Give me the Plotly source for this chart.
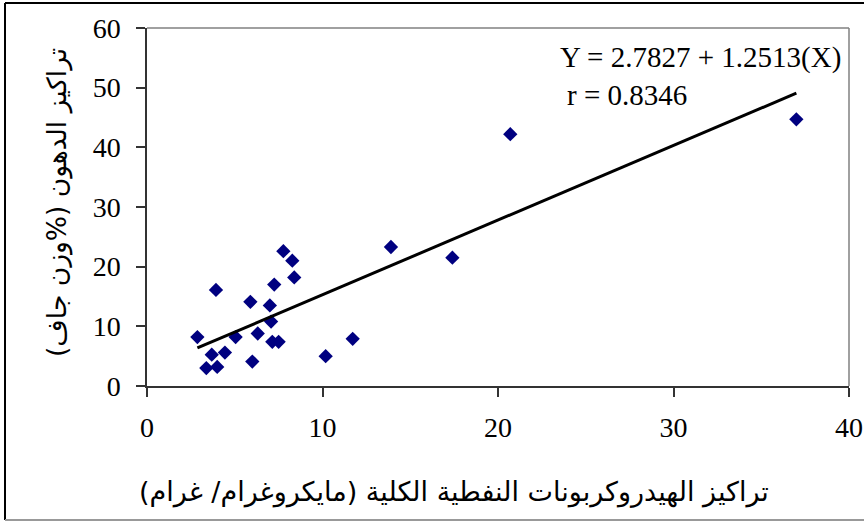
import plotly.graph_objects as go

# Data
tph = [2.87, 3.93, 3.69, 3.38, 4.0, 4.44, 5.05, 5.89, 6.0, 6.31, 7.0, 7.07,
       7.14, 7.5, 7.25, 7.77, 8.28, 8.39, 10.18, 11.72, 13.9, 17.4, 20.7, 37.0]
lipids = [8.2, 16.1, 5.25, 3.0, 3.2, 5.6, 8.2, 14.1, 4.1, 8.8, 13.5, 10.8,
          7.4, 7.4, 17.0, 22.6, 21.0, 18.2, 5.0, 7.9, 23.3, 21.5, 42.2, 44.7]
intercept = 2.7827
slope = 1.2513
r_value = 0.8346
x_ticks = [0, 10, 20, 30, 40]
y_ticks = [0, 10, 20, 30, 40, 50, 60]

x_title = "تراكيز الهيدروكربونات النفطية الكلية (مايكروغرام/ غرام)"
y_title = "تراكيز الدهون (%وزن جاف)"

W, H = 864, 522
L, R, T, B = 147, 15, 28, 136
pw, ph = W - L - R, H - T - B


def px(xp):
    return (xp - L) / pw


def py(yp):
    return (H - B - yp) / ph


fit_x = [min(tph), max(tph)]
fit_y = [intercept + slope * v for v in fit_x]

serif = "Liberation Serif, Times New Roman, serif"
arabic = "DejaVu Sans, Noto Sans, sans-serif"

fig = go.Figure()
fig.add_trace(go.Scatter(
    x=tph, y=lipids, mode="markers",
    marker=dict(symbol="diamond", size=11, color="#000080"),
    showlegend=False, cliponaxis=False,
))
fig.add_trace(go.Scatter(
    x=fit_x, y=fit_y, mode="lines",
    line=dict(color="black", width=3),
    showlegend=False,
))

fig.update_layout(
    width=W, height=H,
    margin=dict(l=L, r=R, t=T, b=B, autoexpand=False),
    paper_bgcolor="white", plot_bgcolor="white",
    font=dict(family=serif, size=28, color="black"),
    xaxis=dict(range=[0, 40], tickvals=x_ticks, showgrid=False, zeroline=False,
               showline=True, linecolor="#333333", linewidth=1.5,
               ticks="outside", ticklen=9, tickcolor="#333333", tickwidth=1.5,
               ticklabelstandoff=7, automargin=False,
               tickfont=dict(family=serif, size=28), mirror=False),
    yaxis=dict(range=[0, 60], tickvals=y_ticks, showgrid=False, zeroline=False,
               showline=True, linecolor="#333333", linewidth=1.5,
               ticks="outside", ticklen=9, tickcolor="#333333", tickwidth=1.5,
               ticklabelstandoff=10, automargin=False,
               tickfont=dict(family=serif, size=28), mirror=False),
    shapes=[
        # plot-area border (top and right)
        dict(type="line", xref="paper", yref="paper", x0=0, x1=1, y0=1, y1=1,
             line=dict(color="#808080", width=1.5)),
        dict(type="line", xref="paper", yref="paper", x0=1, x1=1, y0=0, y1=1,
             line=dict(color="#808080", width=1.5)),
        # outer chart border
        dict(type="line", xref="paper", yref="paper", x0=px(5), x1=px(870),
             y0=py(3), y1=py(3), line=dict(color="black", width=2)),
        dict(type="line", xref="paper", yref="paper", x0=px(5), x1=px(5),
             y0=py(3), y1=py(520), line=dict(color="black", width=2)),
        dict(type="line", xref="paper", yref="paper", x0=px(5), x1=px(870),
             y0=py(520), y1=py(520), line=dict(color="#999999", width=2)),
    ],
    annotations=[
        dict(text="Y = 2.7827 + 1.2513(X)", xref="paper", yref="paper",
             x=px(558), y=py(57), xanchor="left", yanchor="middle",
             showarrow=False, font=dict(family=serif, size=29)),
        dict(text="r = %.4f" % r_value, xref="paper", yref="paper",
             x=px(565), y=py(95), xanchor="left", yanchor="middle",
             showarrow=False, font=dict(family=serif, size=29)),
        dict(text=x_title, xref="paper", yref="paper",
             x=px(454), y=py(492), xanchor="center", yanchor="middle",
             showarrow=False, font=dict(family=arabic, size=27)),
        dict(text=y_title, xref="paper", yref="paper",
             x=px(57), y=py(203), xanchor="center", yanchor="middle",
             textangle=-90, showarrow=False, font=dict(family=arabic, size=26.5)),
    ],
)

fig.write_html("out.html")
